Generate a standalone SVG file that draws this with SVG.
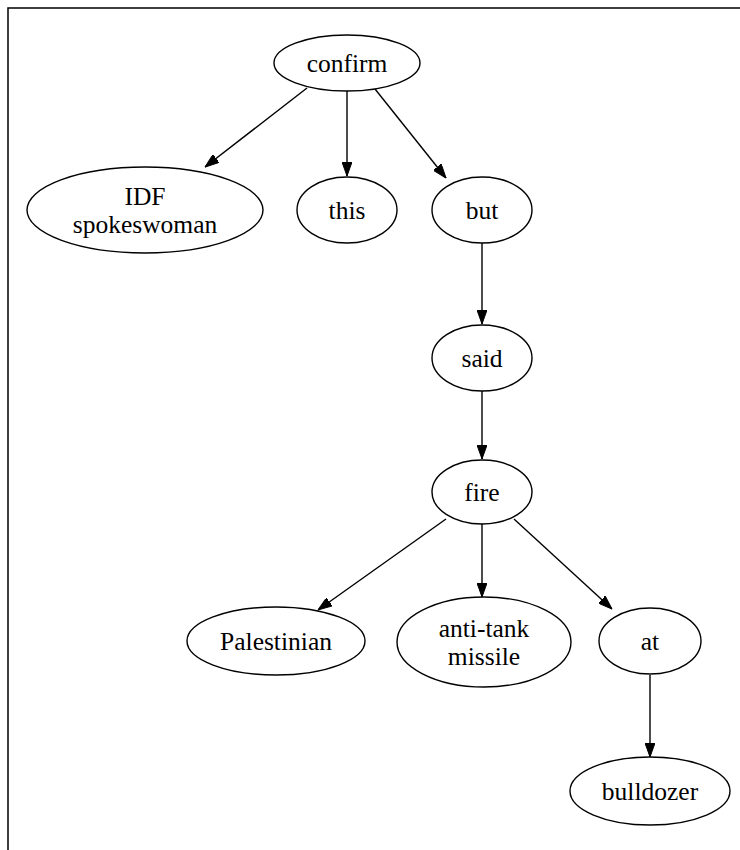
<svg xmlns="http://www.w3.org/2000/svg" width="740" height="850" viewBox="0 0 740 850">
<style>
.n ellipse{fill:none;stroke:#000;stroke-width:1.4}
.n text{font-family:"Liberation Serif","Times New Roman",serif;font-size:25.5px;text-anchor:middle;fill:#000}
#edges line{stroke:#000;stroke-width:1.4;marker-end:url(#ah)}
</style>
<defs>
<marker id="ah" markerWidth="14" markerHeight="10" refX="14" refY="5" orient="auto" markerUnits="userSpaceOnUse">
<path d="M0,0 L14,5 L0,10 Z" fill="#000" stroke="#000" stroke-width="1"/>
</marker>
</defs>
<rect x="8" y="8" width="800" height="900" fill="#fff" stroke="#000" stroke-width="1.5"/>
<g id="edges">
<line x1="307" y1="88" x2="205" y2="167"/>
<line x1="347" y1="91" x2="347" y2="176"/>
<line x1="375" y1="89" x2="446" y2="178"/>
<line x1="482" y1="243" x2="482" y2="324"/>
<line x1="482" y1="391" x2="482" y2="459"/>
<line x1="446" y1="519" x2="318" y2="610"/>
<line x1="482" y1="524" x2="482" y2="597"/>
<line x1="514" y1="519" x2="612" y2="609"/>
<line x1="650" y1="675" x2="650" y2="757"/>
</g>
<g id="confirm" class="n"><ellipse cx="347" cy="63" rx="73" ry="28"/><text x="347" y="72">confirm</text></g>
<g id="idf" class="n"><ellipse cx="145" cy="210" rx="118" ry="43"/><text x="145" y="205">IDF</text><text x="145" y="233">spokeswoman</text></g>
<g id="this" class="n"><ellipse cx="347" cy="210" rx="50" ry="33"/><text x="347" y="219">this</text></g>
<g id="but" class="n"><ellipse cx="482" cy="210" rx="50" ry="33"/><text x="482" y="219">but</text></g>
<g id="said" class="n"><ellipse cx="482" cy="358" rx="50" ry="33"/><text x="482" y="367">said</text></g>
<g id="fire" class="n"><ellipse cx="482" cy="492" rx="50" ry="32"/><text x="482" y="501">fire</text></g>
<g id="palestinian" class="n"><ellipse cx="276" cy="641" rx="89" ry="34"/><text x="276" y="650">Palestinian</text></g>
<g id="antitank" class="n"><ellipse cx="484" cy="642" rx="87" ry="45"/><text x="484" y="637">anti-tank</text><text x="484" y="665">missile</text></g>
<g id="at" class="n"><ellipse cx="650" cy="641" rx="51" ry="33"/><text x="650" y="650">at</text></g>
<g id="bulldozer" class="n"><ellipse cx="650" cy="791" rx="80" ry="34"/><text x="650" y="800">bulldozer</text></g>
</svg>
